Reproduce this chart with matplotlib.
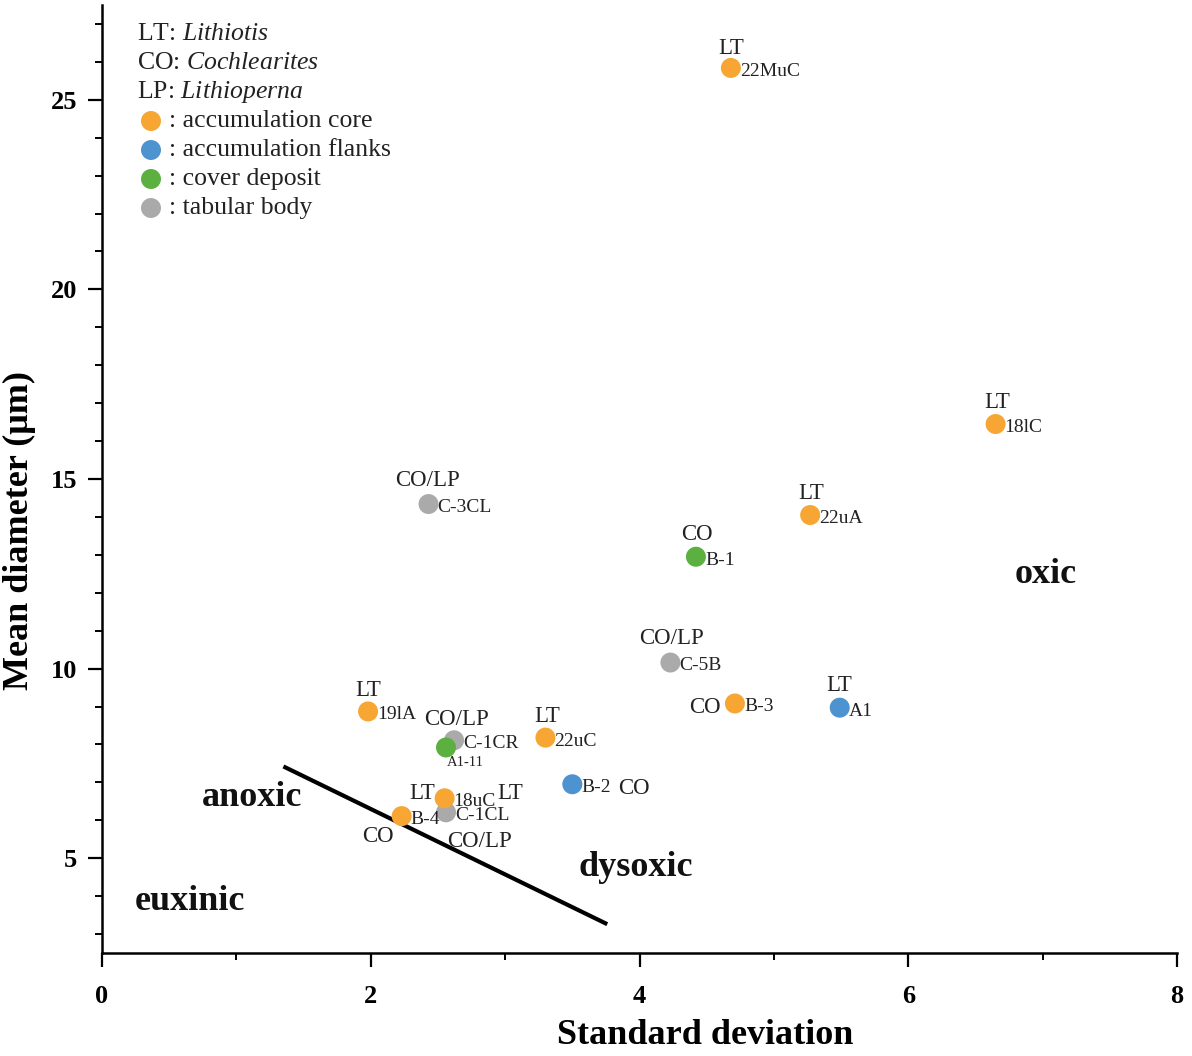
import matplotlib
matplotlib.use("Agg")
import matplotlib.pyplot as plt
from matplotlib.ticker import MultipleLocator

plt.rcParams['font.family'] = ['Liberation Serif', 'DejaVu Serif']
plt.rcParams['mathtext.fontset'] = 'custom'
plt.rcParams['mathtext.rm'] = 'Liberation Serif'
plt.rcParams['mathtext.it'] = 'Liberation Serif:italic'

# ---------------- data ----------------
names = ["22MuC", "18lC", "22uA", "C-3CL", "B-1", "C-5B", "B-3", "A1", "19lA",
         "C-1CR", "A1-11", "22uC", "B-2", "C-1CL", "18uC", "B-4"]
std_dev = [4.68, 6.65, 5.27, 2.43, 4.42, 4.23, 4.71, 5.49, 1.98,
           2.62, 2.56, 3.30, 3.50, 2.56, 2.55, 2.23]
mean_diam = [25.84, 16.45, 14.05, 14.34, 12.95, 10.16, 9.08, 8.97, 8.87,
             8.11, 7.92, 8.18, 6.95, 6.21, 6.58, 6.11]
groups = ["core", "core", "core", "tabular", "cover", "tabular", "core", "flanks", "core",
          "tabular", "cover", "core", "flanks", "tabular", "core", "core"]
taxa = ["LT", "LT", "LT", "CO/LP", "CO", "CO/LP", "CO", "LT", "LT",
        "CO/LP", "", "LT", "CO", "CO/LP", "LT", "CO"]

boundary_x = [1.35, 3.76]
boundary_y = [7.42, 3.26]

regions = ["anoxic", "euxinic", "dysoxic", "oxic"]
region_x = [1.116, 0.655, 3.974, 7.025]
region_y = [6.60, 3.86, 4.76, 12.47]

legend_taxa = [("LT", "Lithiotis"), ("CO", "Cochlearites"), ("LP", "Lithioperna")]
legend_groups = [("core", "accumulation core"), ("flanks", "accumulation flanks"),
                 ("cover", "cover deposit"), ("tabular", "tabular body")]

x_ticks = [0, 2, 4, 6, 8]
y_ticks = [5, 10, 15, 20, 25]

# ---------------- styles ----------------
colors = {"core": "#F7A533", "flanks": "#4D93CF", "cover": "#5BB040", "tabular": "#AAAAAA"}
# taxon label offsets (points) and alignment
tax_style = {
    "22MuC": (0, 16, "center"),
    "18lC": (1, 17, "center"),
    "22uA": (1, 17, "center"),
    "C-3CL": (-1, 19, "center"),
    "B-1": (1, 18, "center"),
    "C-5B": (1, 19, "center"),
    "B-3": (-10, -1, "right"),
    "A1": (0, 18, "center"),
    "19lA": (0, 17, "center"),
    "C-1CR": (2, 17, "center"),
    "22uC": (1, 17, "center"),
    "B-2": (33, -1, "left"),
    "C-1CL": (24, -19, "center"),
    "18uC": (-16, 5.5, "center"),
    "B-4": (-17, -13, "center"),
}
S = 207
TXT = "#222222"

fig = plt.figure(figsize=(11.92, 10.56), dpi=100)
ax = fig.add_axes([102 / 1192, 1 - 953 / 1056, 1075 / 1192, 948 / 1056])
ax.set_xlim(0, 8)
ax.set_ylim(2.5, 27.5)

ax.plot(boundary_x, boundary_y, color="black", lw=3, zorder=2, solid_capstyle="butt")

for i, n in enumerate(names):
    ax.scatter(std_dev[i], mean_diam[i], s=S, color=colors[groups[i]], edgecolors="none", zorder=3)
    if n == "A1-11":
        ax.annotate(n, (std_dev[i], mean_diam[i]), xytext=(14, -10), textcoords="offset points",
                    ha="center", va="center_baseline", fontsize=10.5, color=TXT, zorder=4)
    else:
        ax.annotate(n, (std_dev[i], mean_diam[i]), xytext=(6.5, -1), textcoords="offset points",
                    ha="left", va="center_baseline", fontsize=14, color=TXT, zorder=4)
    if taxa[i]:
        dx, dy, ha = tax_style[n]
        ax.annotate(taxa[i], (std_dev[i], mean_diam[i]), xytext=(dx, dy), textcoords="offset points",
                    ha=ha, va="center_baseline", fontsize=16.5, color=TXT, zorder=4)
        if n == "18uC":
            ax.annotate(taxa[i], (std_dev[i], mean_diam[i]), xytext=(47, 5.5), textcoords="offset points",
                        ha="center", va="center_baseline", fontsize=16.5, color=TXT, zorder=4)

for r, rx, ry in zip(regions, region_x, region_y):
    ax.text(rx, ry, r, ha="center", va="center", fontsize=26, fontweight="bold", color="#111111")

# legend
lx = (137 - 102) / 1075
ly0 = (953 - 34) / 948
dy = 29 / 948
for k, (ab, full) in enumerate(legend_taxa):
    ax.text(lx, ly0 - k * dy, ab + r": $\mathit{" + full + "}$", transform=ax.transAxes,
            ha="left", va="center", fontsize=18.5, color=TXT)
for k, (g, lab) in enumerate(legend_groups):
    yy = ly0 - (k + 3) * dy
    ax.scatter([(151 - 102) / 1075], [yy], s=S, color=colors[g], edgecolors="none",
               transform=ax.transAxes, clip_on=False)
    ax.text((169 - 102) / 1075, yy, ": " + lab, transform=ax.transAxes,
            ha="left", va="center", fontsize=18.5, color=TXT)

# axes styling
for sp in ["top", "right"]:
    ax.spines[sp].set_visible(False)
for sp in ["left", "bottom"]:
    ax.spines[sp].set_linewidth(1.8)
ax.set_xticks(x_ticks)
ax.set_yticks(y_ticks)
ax.xaxis.set_minor_locator(MultipleLocator(1))
ax.yaxis.set_minor_locator(MultipleLocator(1))
ax.tick_params(which="major", direction="out", length=10, width=1.6, labelsize=19, pad=8)
ax.tick_params(axis="x", which="major", pad=13)
ax.tick_params(which="minor", direction="out", length=5, width=1.4)
for lab in ax.get_xticklabels() + ax.get_yticklabels():
    lab.set_fontweight("bold")

ax.set_xlabel("Standard deviation", fontsize=26, fontweight="bold")
ax.set_ylabel("Mean diameter (μm)", fontsize=26, fontweight="bold")
ax.xaxis.set_label_coords(0.561, -0.070)
ax.yaxis.set_label_coords(-0.061, 0.446)

fig.savefig("out.png", dpi=100)
